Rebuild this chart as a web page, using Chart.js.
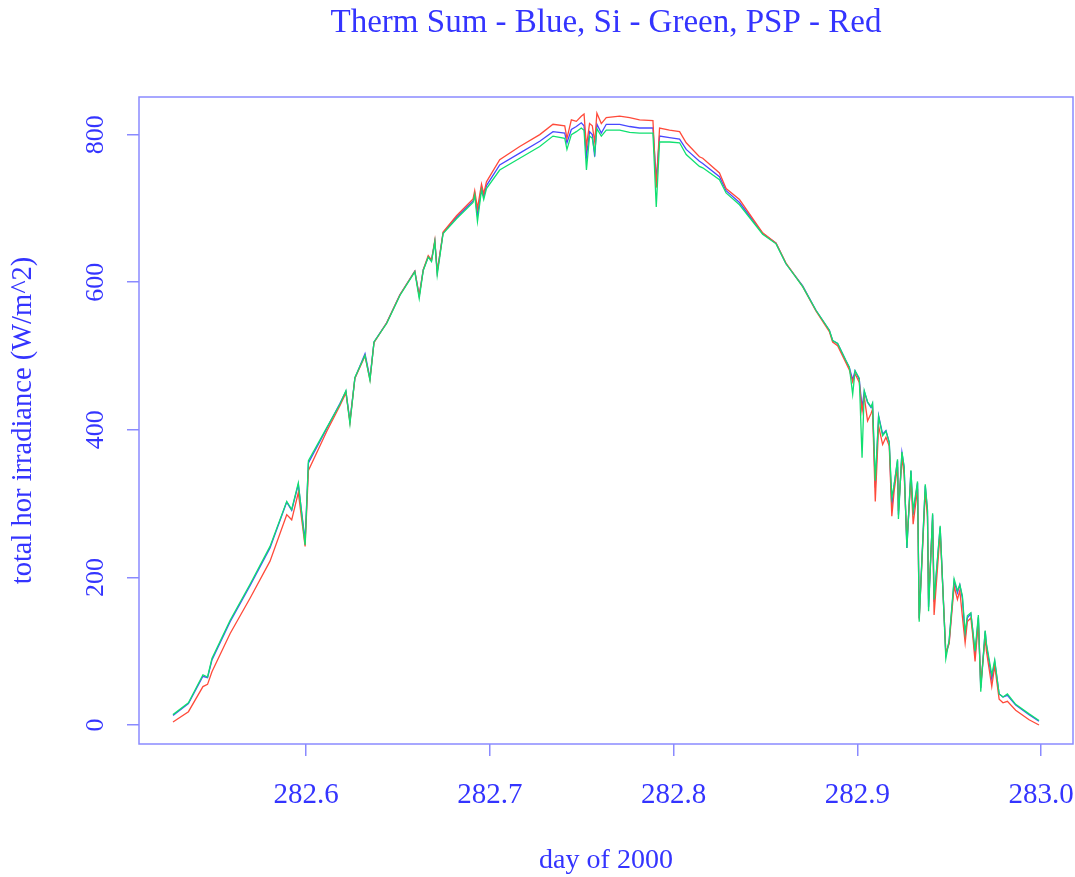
<!DOCTYPE html>
<html lang="en">
<head>
    <meta charset="UTF-8">
    <title>Therm Sum - Blue, Si - Green, PSP - Red</title>
    <script src="https://cdn.jsdelivr.net/npm/chart.js"></script>
    <style>
        body {
            margin: 0;
            padding: 0;
            background-color: #ffffff;
            overflow: hidden;
        }

        .chart-container {
            width: 1075px;
            height: 877px;
        }
    </style>
</head>
<body>
    <div class="chart-container">
        <canvas id="myChart" width="1075" height="877"></canvas>
    </div>

    <script>
        // day of 2000 (shared by the three series)
        const days = [
            282.5276, 282.5360, 282.5439, 282.5464, 282.5488, 282.5587, 282.5696, 282.5804, 282.5895, 282.5922,
            282.5958, 282.5995, 282.6013, 282.6113, 282.6185, 282.6217, 282.6239, 282.6266, 282.6321, 282.6348,
            282.6370, 282.6439, 282.6511, 282.6592, 282.6616, 282.6638, 282.6665, 282.6683, 282.6701, 282.6714,
            282.6746, 282.6819, 282.6909, 282.6918, 282.6933, 282.6955, 282.6967, 282.6982, 282.7054, 282.7163,
            282.7272, 282.7344, 282.7408, 282.7420, 282.7444, 282.7471, 282.7498, 282.7513, 282.7526, 282.7543,
            282.7558, 282.7571, 282.7583, 282.7607, 282.7634, 282.7707, 282.7761, 282.7815, 282.7888, 282.7906,
            282.7924, 282.7978, 282.8033, 282.8069, 282.8141, 282.8159, 282.8250, 282.8286, 282.8359, 282.8485,
            282.8558, 282.8612, 282.8703, 282.8775, 282.8848, 282.8866, 282.8893, 282.8938, 282.8957, 282.8975,
            282.8988, 282.9011, 282.9026, 282.9038, 282.9056, 282.9075, 282.9083, 282.9098, 282.9116, 282.9138,
            282.9156, 282.9174, 282.9188, 282.9201, 282.9219, 282.9224, 282.9243, 282.9255, 282.9270, 282.9292,
            282.9304, 282.9328, 282.9337, 282.9370, 282.9382, 282.9388, 282.9410, 282.9418, 282.9451, 282.9482,
            282.9500, 282.9527, 282.9545, 282.9558, 282.9572, 282.9587, 282.9599, 282.9618, 282.9627, 282.9641,
            282.9659, 282.9672, 282.9696, 282.9703, 282.9732, 282.9748, 282.9772, 282.9793, 282.9817, 282.9862,
            282.9935, 282.9989
        ];

        // Therm Sum (blue)
        const thermSum = [
            13, 29, 66, 64, 88, 140, 189, 240, 302, 291,
            326, 250, 355, 402, 436, 452, 412, 470, 503, 470,
            519, 545, 583, 615, 582, 617, 634, 630, 655, 614,
            667, 688, 710, 720, 690, 729, 716, 731, 759, 775,
            791, 804, 802, 789, 807, 811, 816, 812, 770, 804,
            800, 770, 814, 802, 814, 814, 811, 809, 809, 738,
            798, 796, 794, 780, 764, 761, 743, 724, 708, 666,
            653, 625, 595, 562, 535, 521, 517, 494, 484, 468,
            480, 468, 430, 452, 437, 430, 435, 322, 419, 394,
            399, 383, 295, 326, 358, 285, 369, 349, 240, 344,
            285, 328, 145, 324, 290, 160, 285, 167, 268, 95,
            113, 195, 179, 190, 172, 120, 145, 151, 131, 95,
            146, 50, 127, 108, 62, 86, 42, 38, 40, 27,
            14, 5
        ];

        // Si (green)
        const si = [
            14, 30, 68, 65, 90, 142, 191, 242, 303, 292,
            328, 244, 358, 403, 435, 453, 408, 471, 501, 467,
            519, 544, 582, 614, 578, 616, 634, 628, 655, 610,
            666, 686, 708, 718, 682, 725, 712, 727, 752, 768,
            784, 798, 795, 780, 800, 804, 809, 806, 752, 798,
            795, 775, 808, 798, 806, 806, 803, 802, 802, 702,
            790, 790, 789, 773, 757, 755, 739, 721, 705, 665,
            652, 625, 594, 562, 535, 521, 517, 494, 485, 448,
            480, 470, 362, 453, 438, 431, 436, 331, 418, 392,
            398, 383, 308, 326, 360, 279, 370, 350, 240, 345,
            290, 330, 140, 326, 292, 154, 287, 170, 270, 90,
            115, 198, 182, 190, 175, 125, 148, 152, 132, 100,
            149, 45, 128, 110, 68, 88, 42, 38, 42, 28,
            15, 6
        ];

        // PSP (red)
        const psp = [
            4, 18, 52, 55, 72, 124, 172, 222, 285, 278,
            315, 242, 345, 398, 433, 450, 410, 470, 500, 468,
            518, 545, 583, 615, 582, 617, 636, 630, 657, 614,
            668, 690, 713, 724, 700, 733, 720, 736, 766, 784,
            800, 814, 812, 795, 820, 818, 825, 828, 784, 815,
            812, 790, 829, 815, 823, 825, 823, 820, 819, 728,
            809, 806, 804, 789, 770, 768, 748, 727, 712, 667,
            653, 626, 594, 561, 533, 519, 514, 491, 481, 465,
            476, 464, 425, 445, 412, 422, 428, 303, 405, 380,
            390, 378, 283, 318, 350, 290, 362, 340, 248, 336,
            272, 320, 143, 316, 282, 170, 278, 149, 262, 98,
            110, 188, 170, 182, 147, 111, 140, 145, 125, 86,
            140, 55, 118, 100, 52, 80, 35, 30, 32, 20,
            7, 0
        ];

        // tick labels
        const xTicks = [282.6, 282.7, 282.8, 282.9, 283.0];
        const yTicks = [0, 200, 400, 600, 800];

        const axisBlue = '#3434ff';
        const boxBlue = '#8a8aff';
        const serif = "'Liberation Serif', 'DejaVu Serif', serif";

        function toPoints(values) {
            return days.map((d, i) => ({ x: d, y: values[i] }));
        }

        // R style box round the plot region and rotated y labels
        const rStylePlugin = {
            id: 'rStyle',
            afterDraw(chart) {
                const ctx = chart.ctx;
                const area = chart.chartArea;
                const yScale = chart.scales.y;
                ctx.save();
                ctx.strokeStyle = boxBlue;
                ctx.lineWidth = 1.5;
                ctx.strokeRect(area.left, area.top, area.right - area.left, area.bottom - area.top);

                ctx.fillStyle = axisBlue;
                ctx.font = '26px ' + serif;
                ctx.textAlign = 'center';
                ctx.textBaseline = 'middle';
                yScale.ticks.forEach(t => {
                    const py = yScale.getPixelForValue(t.value);
                    ctx.save();
                    ctx.translate(96, py);
                    ctx.rotate(-Math.PI / 2);
                    ctx.fillText(String(t.value), 0, 0);
                    ctx.restore();
                });
                ctx.restore();
            }
        };

        function createChart() {
            const ctx = document.getElementById('myChart').getContext('2d');
            new Chart(ctx, {
                type: 'line',
                data: {
                    datasets: [
                        {
                            label: 'Therm Sum',
                            data: toPoints(thermSum),
                            borderColor: '#4848ff',
                            borderWidth: 1.3,
                            pointRadius: 0,
                            order: 2
                        },
                        {
                            label: 'PSP',
                            data: toPoints(psp),
                            borderColor: '#ff4a3a',
                            borderWidth: 1.3,
                            pointRadius: 0,
                            order: 1
                        },
                        {
                            label: 'Si',
                            data: toPoints(si),
                            borderColor: '#10e070',
                            borderWidth: 1.3,
                            pointRadius: 0,
                            order: 0
                        }
                    ]
                },
                options: {
                    responsive: false,
                    animation: false,
                    layout: {
                        padding: { left: 0, right: 2, top: 0, bottom: 0 }
                    },
                    plugins: {
                        legend: { display: false },
                        tooltip: { enabled: false },
                        title: {
                            display: true,
                            fullSize: false,
                            text: 'Therm Sum - Blue, Si - Green, PSP - Red',
                            color: axisBlue,
                            font: { family: serif, size: 33, weight: 'normal' },
                            padding: { top: 4, bottom: 53.4 },
                            align: 'center'
                        }
                    },
                    scales: {
                        x: {
                            type: 'linear',
                            min: 282.5091,
                            max: 283.0174,
                            afterBuildTicks: s => { s.ticks = xTicks.map(v => ({ value: v })); },
                            afterFit: s => {
                                s.height = 133;
                                s.paddingLeft = 0;
                                s.paddingRight = 0;
                            },
                            border: { display: false },
                            grid: {
                                drawOnChartArea: false,
                                drawTicks: true,
                                tickLength: 12,
                                color: boxBlue,
                                lineWidth: 1.5
                            },
                            ticks: {
                                color: axisBlue,
                                font: { family: serif, size: 29 },
                                padding: 22,
                                maxRotation: 0,
                                callback: v => v.toFixed(1)
                            },
                            title: {
                                display: true,
                                text: 'day of 2000',
                                color: axisBlue,
                                font: { family: serif, size: 28 },
                                padding: { top: 0, bottom: 0 }
                            }
                        },
                        y: {
                            min: -25.8,
                            max: 851,
                            afterBuildTicks: s => { s.ticks = yTicks.map(v => ({ value: v })); },
                            afterFit: s => {
                                s.width = 139;
                                s.paddingTop = 0;
                                s.paddingBottom = 0;
                            },
                            border: { display: false },
                            grid: {
                                drawOnChartArea: false,
                                drawTicks: true,
                                tickLength: 12,
                                color: boxBlue,
                                lineWidth: 1.5
                            },
                            ticks: { display: false },
                            title: {
                                display: true,
                                text: 'total hor irradiance (W/m^2)',
                                color: axisBlue,
                                font: { family: serif, size: 28.5 },
                                padding: { top: 6, bottom: 0 }
                            }
                        }
                    }
                },
                plugins: [rStylePlugin]
            });
        }

        createChart();
    </script>
</body>
</html>
